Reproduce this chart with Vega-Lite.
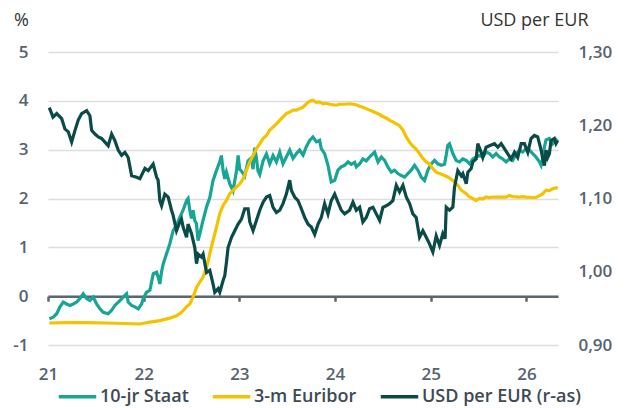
{
  "$schema": "https://vega.github.io/schema/vega-lite/v6.json",
  "width": 510,
  "height": 293,
  "autosize": {"type": "none"},
  "padding": {"left": 48, "top": 52, "right": 69, "bottom": 63},
  "config": {"view": {"stroke": null}, "font": "Open Sans"},
  "datasets": {
    "staat": [
      {"t":2021.014,"v":-0.46},{"t":2021.055,"v":-0.43},{"t":2021.091,"v":-0.36},{"t":2021.125,"v":-0.22},{"t":2021.160,"v":-0.12},{"t":2021.195,"v":-0.16},{"t":2021.230,"v":-0.19},{"t":2021.264,"v":-0.16},{"t":2021.300,"v":-0.12},{"t":2021.334,"v":-0.05},{"t":2021.368,"v":0.05},{"t":2021.404,"v":-0.05},{"t":2021.438,"v":-0.09},{"t":2021.473,"v":-0.02},{"t":2021.508,"v":-0.16},{"t":2021.543,"v":-0.26},{"t":2021.577,"v":-0.33},{"t":2021.629,"v":-0.36},{"t":2021.665,"v":-0.29},{"t":2021.699,"v":-0.19},{"t":2021.752,"v":-0.09},{"t":2021.786,"v":-0.02},{"t":2021.821,"v":0.05},{"t":2021.838,"v":-0.12},{"t":2021.874,"v":-0.19},{"t":2021.908,"v":-0.22},{"t":2021.943,"v":-0.26},{"t":2021.978,"v":-0.16},{"t":2021.995,"v":-0.05},
      {"t":2022.030,"v":0.08},{"t":2022.065,"v":0.12},{"t":2022.100,"v":0.46},{"t":2022.135,"v":0.49},{"t":2022.152,"v":0.39},{"t":2022.169,"v":0.25},{"t":2022.186,"v":0.49},{"t":2022.204,"v":0.66},{"t":2022.239,"v":0.87},{"t":2022.273,"v":1.07},{"t":2022.308,"v":1.34},{"t":2022.343,"v":1.45},{"t":2022.378,"v":1.62},{"t":2022.412,"v":1.76},{"t":2022.448,"v":1.96},{"t":2022.464,"v":2.00},{"t":2022.482,"v":1.76},{"t":2022.499,"v":1.59},{"t":2022.516,"v":1.76},{"t":2022.534,"v":1.55},{"t":2022.551,"v":1.49},{"t":2022.568,"v":1.14},{"t":2022.587,"v":1.28},{"t":2022.620,"v":1.55},{"t":2022.656,"v":1.82},{"t":2022.691,"v":2.02},{"t":2022.725,"v":2.37},{"t":2022.760,"v":2.57},{"t":2022.795,"v":2.75},{"t":2022.812,"v":2.88},{"t":2022.830,"v":2.57},{"t":2022.848,"v":2.40},{"t":2022.865,"v":2.54},{"t":2022.900,"v":2.30},{"t":2022.934,"v":2.16},{"t":2022.970,"v":2.57},{"t":2022.987,"v":2.88},
      {"t":2023.004,"v":2.60},{"t":2023.022,"v":2.56},{"t":2023.056,"v":2.46},{"t":2023.091,"v":2.77},{"t":2023.126,"v":2.83},{"t":2023.143,"v":2.60},{"t":2023.161,"v":3.04},{"t":2023.178,"v":2.83},{"t":2023.195,"v":2.56},{"t":2023.213,"v":2.49},{"t":2023.248,"v":2.77},{"t":2023.283,"v":2.91},{"t":2023.317,"v":2.71},{"t":2023.352,"v":2.88},{"t":2023.387,"v":2.75},{"t":2023.422,"v":2.95},{"t":2023.456,"v":2.71},{"t":2023.491,"v":2.85},{"t":2023.526,"v":2.99},{"t":2023.561,"v":2.82},{"t":2023.596,"v":2.92},{"t":2023.630,"v":2.99},{"t":2023.665,"v":2.89},{"t":2023.700,"v":3.06},{"t":2023.735,"v":3.19},{"t":2023.769,"v":3.26},{"t":2023.804,"v":3.16},{"t":2023.839,"v":3.19},{"t":2023.856,"v":3.02},{"t":2023.891,"v":2.92},{"t":2023.926,"v":2.68},{"t":2023.960,"v":2.34},{"t":2023.996,"v":2.37},
      {"t":2024.030,"v":2.58},{"t":2024.065,"v":2.65},{"t":2024.100,"v":2.68},{"t":2024.135,"v":2.75},{"t":2024.170,"v":2.70},{"t":2024.205,"v":2.74},{"t":2024.222,"v":2.65},{"t":2024.257,"v":2.71},{"t":2024.291,"v":2.81},{"t":2024.326,"v":2.77},{"t":2024.361,"v":2.85},{"t":2024.396,"v":2.92},{"t":2024.413,"v":2.95},{"t":2024.449,"v":2.75},{"t":2024.484,"v":2.85},{"t":2024.518,"v":2.78},{"t":2024.553,"v":2.64},{"t":2024.588,"v":2.54},{"t":2024.622,"v":2.58},{"t":2024.657,"v":2.51},{"t":2024.692,"v":2.47},{"t":2024.727,"v":2.44},{"t":2024.761,"v":2.51},{"t":2024.796,"v":2.58},{"t":2024.831,"v":2.68},{"t":2024.866,"v":2.58},{"t":2024.900,"v":2.44},{"t":2024.935,"v":2.37},{"t":2024.970,"v":2.58},
      {"t":2025.005,"v":2.71},{"t":2025.040,"v":2.78},{"t":2025.074,"v":2.71},{"t":2025.110,"v":2.68},{"t":2025.144,"v":2.70},{"t":2025.162,"v":2.89},{"t":2025.178,"v":3.09},{"t":2025.196,"v":3.12},{"t":2025.231,"v":2.92},{"t":2025.266,"v":2.78},{"t":2025.300,"v":2.75},{"t":2025.335,"v":2.81},{"t":2025.370,"v":2.78},{"t":2025.405,"v":2.71},{"t":2025.440,"v":2.81},{"t":2025.475,"v":2.85},{"t":2025.509,"v":2.88},{"t":2025.544,"v":2.85},{"t":2025.579,"v":2.95},{"t":2025.614,"v":2.92},{"t":2025.648,"v":2.85},{"t":2025.684,"v":2.92},{"t":2025.718,"v":2.85},{"t":2025.753,"v":2.81},{"t":2025.788,"v":2.75},{"t":2025.822,"v":2.81},{"t":2025.857,"v":2.78},{"t":2025.892,"v":2.92},{"t":2025.927,"v":2.99},{"t":2025.961,"v":2.95},{"t":2025.997,"v":3.02},
      {"t":2026.031,"v":2.99},{"t":2026.066,"v":2.92},{"t":2026.100,"v":2.85},{"t":2026.136,"v":2.75},{"t":2026.153,"v":2.68},{"t":2026.171,"v":2.82},{"t":2026.188,"v":3.06},{"t":2026.205,"v":3.20},{"t":2026.240,"v":3.23},{"t":2026.275,"v":3.12},{"t":2026.310,"v":3.20},{"t":2026.326,"v":3.16}
    ],
    "euribor": [
      {"t":2021.014,"v":-0.55},{"t":2021.200,"v":-0.54},{"t":2021.400,"v":-0.54},{"t":2021.600,"v":-0.55},{"t":2021.800,"v":-0.56},{"t":2021.960,"v":-0.57},
      {"t":2022.065,"v":-0.53},{"t":2022.169,"v":-0.50},{"t":2022.273,"v":-0.45},{"t":2022.343,"v":-0.40},{"t":2022.395,"v":-0.33},{"t":2022.448,"v":-0.22},{"t":2022.482,"v":-0.16},{"t":2022.516,"v":-0.02},{"t":2022.552,"v":0.18},{"t":2022.587,"v":0.29},{"t":2022.621,"v":0.39},{"t":2022.657,"v":0.59},{"t":2022.691,"v":0.87},{"t":2022.725,"v":1.14},{"t":2022.760,"v":1.41},{"t":2022.795,"v":1.69},{"t":2022.830,"v":1.86},{"t":2022.865,"v":1.96},{"t":2022.900,"v":2.10},{"t":2022.952,"v":2.20},
      {"t":2023.004,"v":2.30},{"t":2023.039,"v":2.40},{"t":2023.074,"v":2.58},{"t":2023.109,"v":2.75},{"t":2023.143,"v":2.88},{"t":2023.178,"v":3.02},{"t":2023.213,"v":3.12},{"t":2023.248,"v":3.23},{"t":2023.283,"v":3.29},{"t":2023.317,"v":3.40},{"t":2023.352,"v":3.46},{"t":2023.387,"v":3.53},{"t":2023.422,"v":3.60},{"t":2023.456,"v":3.67},{"t":2023.491,"v":3.74},{"t":2023.526,"v":3.77},{"t":2023.561,"v":3.81},{"t":2023.596,"v":3.81},{"t":2023.630,"v":3.84},{"t":2023.665,"v":3.87},{"t":2023.700,"v":3.94},{"t":2023.735,"v":3.99},{"t":2023.769,"v":4.01},{"t":2023.804,"v":3.97},{"t":2023.839,"v":3.98},{"t":2023.874,"v":3.94},{"t":2023.909,"v":3.95},{"t":2023.944,"v":3.93},{"t":2023.978,"v":3.92},
      {"t":2024.013,"v":3.91},{"t":2024.048,"v":3.93},{"t":2024.100,"v":3.93},{"t":2024.152,"v":3.94},{"t":2024.187,"v":3.93},{"t":2024.222,"v":3.92},{"t":2024.257,"v":3.89},{"t":2024.291,"v":3.87},{"t":2024.326,"v":3.84},{"t":2024.361,"v":3.81},{"t":2024.396,"v":3.78},{"t":2024.431,"v":3.75},{"t":2024.466,"v":3.72},{"t":2024.500,"v":3.68},{"t":2024.535,"v":3.65},{"t":2024.570,"v":3.60},{"t":2024.604,"v":3.57},{"t":2024.640,"v":3.53},{"t":2024.674,"v":3.49},{"t":2024.709,"v":3.40},{"t":2024.744,"v":3.26},{"t":2024.779,"v":3.15},{"t":2024.813,"v":3.07},{"t":2024.848,"v":3.01},{"t":2024.883,"v":2.92},{"t":2024.918,"v":2.82},{"t":2024.953,"v":2.75},{"t":2024.987,"v":2.71},
      {"t":2025.022,"v":2.61},{"t":2025.057,"v":2.54},{"t":2025.092,"v":2.51},{"t":2025.144,"v":2.47},{"t":2025.178,"v":2.44},{"t":2025.231,"v":2.37},{"t":2025.283,"v":2.27},{"t":2025.319,"v":2.17},{"t":2025.371,"v":2.10},{"t":2025.405,"v":2.03},{"t":2025.440,"v":2.00},{"t":2025.475,"v":1.96},{"t":2025.509,"v":2.00},{"t":2025.544,"v":1.99},{"t":2025.579,"v":2.03},{"t":2025.614,"v":2.02},{"t":2025.648,"v":2.03},{"t":2025.718,"v":2.03},{"t":2025.788,"v":2.03},{"t":2025.822,"v":2.06},{"t":2025.857,"v":2.04},{"t":2025.927,"v":2.03},{"t":2025.961,"v":2.04},{"t":2025.997,"v":2.03},
      {"t":2026.066,"v":2.02},{"t":2026.100,"v":2.02},{"t":2026.136,"v":2.06},{"t":2026.171,"v":2.10},{"t":2026.205,"v":2.17},{"t":2026.240,"v":2.16},{"t":2026.275,"v":2.20},{"t":2026.310,"v":2.22},{"t":2026.326,"v":2.20}
    ],
    "usd": [
      {"t":2021.014,"v":1.224},{"t":2021.052,"v":1.211},{"t":2021.091,"v":1.216},{"t":2021.143,"v":1.209},{"t":2021.177,"v":1.195},{"t":2021.212,"v":1.191},{"t":2021.247,"v":1.177},{"t":2021.282,"v":1.193},{"t":2021.316,"v":1.207},{"t":2021.352,"v":1.216},{"t":2021.404,"v":1.220},{"t":2021.438,"v":1.213},{"t":2021.456,"v":1.193},{"t":2021.491,"v":1.188},{"t":2021.525,"v":1.184},{"t":2021.560,"v":1.182},{"t":2021.595,"v":1.177},{"t":2021.629,"v":1.172},{"t":2021.665,"v":1.188},{"t":2021.699,"v":1.179},{"t":2021.734,"v":1.166},{"t":2021.769,"v":1.159},{"t":2021.804,"v":1.163},{"t":2021.838,"v":1.156},{"t":2021.874,"v":1.131},{"t":2021.926,"v":1.129},{"t":2021.960,"v":1.127},
      {"t":2022.013,"v":1.141},{"t":2022.047,"v":1.138},{"t":2022.099,"v":1.147},{"t":2022.135,"v":1.129},{"t":2022.151,"v":1.125},{"t":2022.169,"v":1.097},{"t":2022.187,"v":1.090},{"t":2022.221,"v":1.106},{"t":2022.256,"v":1.102},{"t":2022.291,"v":1.084},{"t":2022.308,"v":1.077},{"t":2022.343,"v":1.056},{"t":2022.378,"v":1.068},{"t":2022.395,"v":1.072},{"t":2022.412,"v":1.061},{"t":2022.448,"v":1.047},{"t":2022.464,"v":1.065},{"t":2022.500,"v":1.052},{"t":2022.534,"v":1.033},{"t":2022.552,"v":1.011},{"t":2022.569,"v":1.024},{"t":2022.604,"v":1.020},{"t":2022.621,"v":1.024},{"t":2022.657,"v":0.999},{"t":2022.691,"v":1.002},{"t":2022.725,"v":0.983},{"t":2022.743,"v":0.972},{"t":2022.778,"v":0.977},{"t":2022.795,"v":0.972},{"t":2022.830,"v":0.988},{"t":2022.848,"v":0.995},{"t":2022.865,"v":1.013},{"t":2022.882,"v":1.033},{"t":2022.918,"v":1.047},{"t":2022.952,"v":1.056},{"t":2022.987,"v":1.065},
      {"t":2023.022,"v":1.072},{"t":2023.056,"v":1.086},{"t":2023.091,"v":1.086},{"t":2023.109,"v":1.068},{"t":2023.143,"v":1.056},{"t":2023.178,"v":1.070},{"t":2023.213,"v":1.084},{"t":2023.248,"v":1.095},{"t":2023.283,"v":1.102},{"t":2023.317,"v":1.104},{"t":2023.352,"v":1.088},{"t":2023.387,"v":1.081},{"t":2023.422,"v":1.084},{"t":2023.456,"v":1.093},{"t":2023.491,"v":1.106},{"t":2023.526,"v":1.125},{"t":2023.544,"v":1.111},{"t":2023.578,"v":1.102},{"t":2023.613,"v":1.097},{"t":2023.648,"v":1.086},{"t":2023.683,"v":1.074},{"t":2023.718,"v":1.065},{"t":2023.752,"v":1.061},{"t":2023.787,"v":1.051},{"t":2023.822,"v":1.065},{"t":2023.856,"v":1.074},{"t":2023.891,"v":1.093},{"t":2023.926,"v":1.079},{"t":2023.960,"v":1.097},{"t":2023.996,"v":1.106},
      {"t":2024.030,"v":1.095},{"t":2024.065,"v":1.084},{"t":2024.100,"v":1.079},{"t":2024.152,"v":1.084},{"t":2024.187,"v":1.095},{"t":2024.222,"v":1.084},{"t":2024.257,"v":1.088},{"t":2024.291,"v":1.068},{"t":2024.326,"v":1.074},{"t":2024.361,"v":1.086},{"t":2024.396,"v":1.088},{"t":2024.431,"v":1.079},{"t":2024.466,"v":1.070},{"t":2024.500,"v":1.088},{"t":2024.535,"v":1.090},{"t":2024.570,"v":1.093},{"t":2024.604,"v":1.097},{"t":2024.640,"v":1.118},{"t":2024.674,"v":1.109},{"t":2024.709,"v":1.118},{"t":2024.744,"v":1.102},{"t":2024.779,"v":1.093},{"t":2024.813,"v":1.079},{"t":2024.848,"v":1.074},{"t":2024.883,"v":1.047},{"t":2024.918,"v":1.056},{"t":2024.953,"v":1.047},{"t":2024.987,"v":1.038},
      {"t":2025.022,"v":1.027},{"t":2025.057,"v":1.049},{"t":2025.092,"v":1.036},{"t":2025.126,"v":1.052},{"t":2025.150,"v":1.045},{"t":2025.162,"v":1.088},{"t":2025.196,"v":1.084},{"t":2025.231,"v":1.088},{"t":2025.248,"v":1.115},{"t":2025.283,"v":1.138},{"t":2025.319,"v":1.131},{"t":2025.335,"v":1.134},{"t":2025.371,"v":1.120},{"t":2025.388,"v":1.136},{"t":2025.423,"v":1.141},{"t":2025.440,"v":1.150},{"t":2025.475,"v":1.154},{"t":2025.492,"v":1.175},{"t":2025.527,"v":1.163},{"t":2025.544,"v":1.156},{"t":2025.579,"v":1.170},{"t":2025.614,"v":1.172},{"t":2025.666,"v":1.175},{"t":2025.701,"v":1.170},{"t":2025.736,"v":1.175},{"t":2025.770,"v":1.168},{"t":2025.805,"v":1.161},{"t":2025.840,"v":1.154},{"t":2025.875,"v":1.163},{"t":2025.909,"v":1.156},{"t":2025.945,"v":1.175},{"t":2025.979,"v":1.175},
      {"t":2026.014,"v":1.163},{"t":2026.049,"v":1.182},{"t":2026.084,"v":1.186},{"t":2026.118,"v":1.184},{"t":2026.154,"v":1.166},{"t":2026.171,"v":1.154},{"t":2026.188,"v":1.145},{"t":2026.205,"v":1.166},{"t":2026.222,"v":1.156},{"t":2026.240,"v":1.161},{"t":2026.257,"v":1.179},{"t":2026.292,"v":1.182},{"t":2026.309,"v":1.175},{"t":2026.326,"v":1.179}
    ]
  },
  "layer": [
    {
      "layer": [
        {
          "data": {"name": "staat"},
          "mark": {"type": "line", "strokeWidth": 3.2},
          "encoding": {
            "x": {"field": "t", "type": "quantitative",
              "scale": {"domain": [2021, 2026.33], "nice": false, "zero": false},
              "axis": {"values": [2021, 2022, 2023, 2024, 2025, 2026], "labelExpr": "substring(toString(datum.value), 2)", "offset": -48.8, "domainColor": "#5a6670", "domainWidth": 2.5, "tickColor": "#5a6670", "tickWidth": 2.5, "tickSize": 5, "labelPadding": 65, "labelFlush": false, "labelFontSize": 17, "labelFontWeight": 600, "labelColor": "#56626c", "grid": false, "title": null, "zindex": 0}},
            "y": {"field": "v", "type": "quantitative",
              "scale": {"domain": [-1, 5], "nice": false, "zero": false},
              "axis": {"orient": "left", "values": [-1, 0, 1, 2, 3, 4, 5], "labelExpr": "toString(datum.value)", "grid": true, "gridColor": "#dddddd", "gridWidth": 1.5, "domain": false, "ticks": false, "labelPadding": 20, "labelFontSize": 17, "labelFontWeight": 600, "labelColor": "#56626c", "title": "%", "titleAngle": 0, "titleX": -27, "titleY": -32, "titleAlign": "center", "titleBaseline": "middle", "titleFontSize": 18, "titleFontWeight": "normal", "titleColor": "#333333"}},
            "color": {"datum": "10-jr Staat", "type": "nominal",
              "scale": {"domain": ["10-jr Staat", "3-m Euribor", "USD per EUR (r-as)"], "range": ["#17a596", "#f5c200", "#0b4b47"]},
              "legend": {"orient": "none", "legendX": 9, "legendY": 324, "direction": "horizontal", "title": null, "symbolType": "stroke", "symbolSize": 1400, "symbolStrokeWidth": 3.5, "labelFontSize": 18, "labelFontWeight": 600, "labelColor": "#3d4a54", "labelOffset": 2, "columnPadding": 16}}
          }
        },
        {
          "data": {"name": "euribor"},
          "mark": {"type": "line", "strokeWidth": 3.2},
          "encoding": {
            "x": {"field": "t", "type": "quantitative"},
            "y": {"field": "v", "type": "quantitative"},
            "color": {"datum": "3-m Euribor", "type": "nominal"}
          }
        }
      ]
    },
    {
      "data": {"name": "usd"},
      "mark": {"type": "line", "strokeWidth": 3.2},
      "encoding": {
        "x": {"field": "t", "type": "quantitative"},
        "y": {"field": "v", "type": "quantitative",
          "scale": {"domain": [0.9, 1.3], "nice": false, "zero": false},
          "axis": {"orient": "right", "values": [0.9, 1.0, 1.1, 1.2, 1.3], "labelExpr": "replace(format(datum.value, '.2f'), '.', ',')", "grid": false, "domain": false, "ticks": false, "labelPadding": 20, "labelFontSize": 17, "labelFontWeight": 600, "labelColor": "#56626c", "title": "USD per EUR", "titleAngle": 0, "titleX": 30, "titleY": -32, "titleAlign": "right", "titleBaseline": "middle", "titleFontSize": 18, "titleFontWeight": "normal", "titleColor": "#333333"}},
        "color": {"datum": "USD per EUR (r-as)", "type": "nominal"}
      }
    }
  ],
  "resolve": {"scale": {"y": "independent"}}
}
